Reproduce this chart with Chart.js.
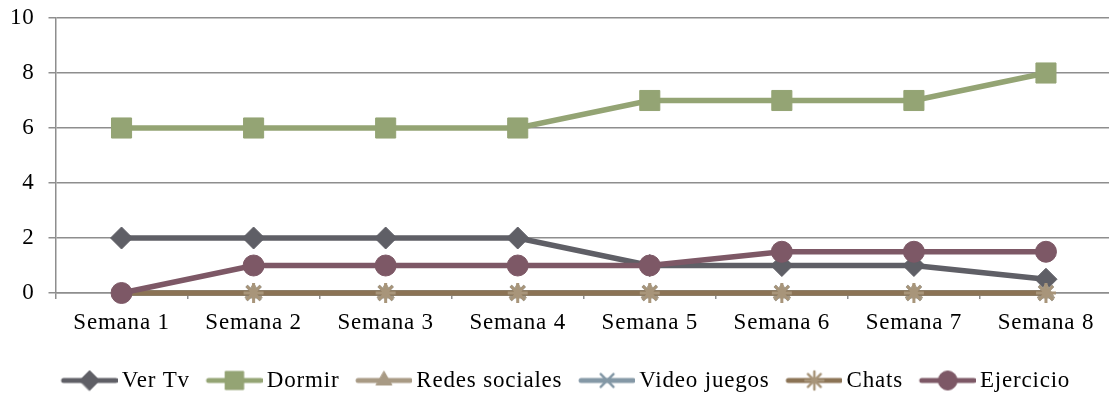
<!DOCTYPE html>
<html lang="es">

<head>
    <meta charset="UTF-8">
    <title>Horas por semana</title>
    <style>
        html, body {
            margin: 0;
            padding: 0;
            background: #fff;
            overflow: hidden;
        }

        .chart-container {
            width: 1142px;
            height: 394px;
            position: relative;
        }
    </style>
    <script src="https://cdn.jsdelivr.net/npm/chart.js@4.4.0/dist/chart.umd.min.js"></script>
</head>

<body>
    <div class="chart-container">
        <canvas id="hours-chart"></canvas>
    </div>

    <script>
        const semanas = ['Semana 1', 'Semana 2', 'Semana 3', 'Semana 4', 'Semana 5', 'Semana 6', 'Semana 7', 'Semana 8'];

        const verTv = [2, 2, 2, 2, 1, 1, 1, 0.5];
        const dormir = [6, 6, 6, 6, 7, 7, 7, 8];
        const redesSociales = [0, 0, 0, 0, 0, 0, 0, 0];
        const videoJuegos = [0, 0, 0, 0, 0, 0, 0, 0];
        const chats = [0, 0, 0, 0, 0, 0, 0, 0];
        const ejercicio = [0, 1, 1, 1, 1, 1.5, 1.5, 1.5];

        const yTicks = [0, 2, 4, 6, 8, 10];

        const FONT = "'Liberation Serif', 'Times New Roman', serif";
        const FONT_SIZE = 23;
        const GRID = '#8e8e8e';

        const series = [
            { label: 'Ver Tv', data: verTv, color: '#5f5f66', marker: '#5f5f66', style: 'rectRot', radius: 11 },
            { label: 'Dormir', data: dormir, color: '#94a474', marker: '#94a474', style: 'rect', radius: 14.2 },
            { label: 'Redes sociales', data: redesSociales, color: '#a89a84', marker: '#a89a84', style: 'triangle', radius: 10 },
            { label: 'Video juegos', data: videoJuegos, color: '#8498a6', marker: '#8498a6', style: 'crossRot', radius: 10 },
            { label: 'Chats', data: chats, color: '#8b7355', marker: '#a8957a', style: 'star', radius: 10 },
            { label: 'Ejercicio', data: ejercicio, color: '#7d5866', marker: '#7d5866', style: 'circle', radius: 10.5 }
        ];

        const thinMarker = (style) => style === 'star' || style === 'crossRot';

        // legend icon: a short stroke of the line with its marker in the middle
        function legendIcon(s) {
            const c = document.createElement('canvas');
            c.width = 78;
            c.height = 26;
            const g = c.getContext('2d');
            g.strokeStyle = s.color;
            g.lineWidth = 5;
            g.lineCap = 'round';
            g.beginPath();
            g.moveTo(24, 13);
            g.lineTo(76, 13);
            g.stroke();
            g.fillStyle = s.marker;
            g.strokeStyle = s.marker;
            g.lineWidth = thinMarker(s.style) ? 2.5 : 1;
            Chart.helpers.drawPoint(g, { pointStyle: s.style, radius: s.radius * 0.9, rotation: 0, borderWidth: g.lineWidth }, 50, 13);
            return c;
        }

        // slightly wider text spacing, set again whenever the canvas resets its context
        const textSpacing = {
            id: 'textSpacing',
            beforeUpdate(chart) { chart.ctx.letterSpacing = '0.8px'; },
            beforeDraw(chart) { chart.ctx.letterSpacing = '0.8px'; }
        };

        const ctx = document.getElementById('hours-chart').getContext('2d');

        new Chart(ctx, {
            type: 'line',
            plugins: [textSpacing],
            data: {
                labels: semanas,
                datasets: series.map((s, i) => ({
                    label: s.label,
                    data: s.data,
                    borderColor: s.color,
                    backgroundColor: s.marker,
                    borderWidth: 5.5,
                    pointStyle: s.style,
                    pointRadius: s.radius,
                    pointBackgroundColor: s.marker,
                    pointBorderColor: s.marker,
                    pointBorderWidth: thinMarker(s.style) ? 3 : 1,
                    tension: 0,
                    clip: false,
                    order: series.length - i
                }))
            },
            options: {
                responsive: true,
                maintainAspectRatio: false,
                animation: false,
                layout: {
                    padding: { left: 5, right: 30, top: 18, bottom: -8 }
                },
                plugins: {
                    tooltip: { enabled: false },
                    legend: {
                        position: 'bottom',
                        labels: {
                            usePointStyle: true,
                            pointStyleWidth: 63.5,
                            boxHeight: 22,
                            padding: 2,
                            color: '#000',
                            font: { family: FONT, size: FONT_SIZE },
                            generateLabels: (chart) => series.map((s, i) => ({
                                text: s.label,
                                pointStyle: legendIcon(s),
                                fillStyle: s.marker,
                                strokeStyle: s.color,
                                lineWidth: 0,
                                hidden: false,
                                datasetIndex: i
                            }))
                        }
                    }
                },
                scales: {
                    x: {
                        offset: true,
                        grid: {
                            offset: true,
                            drawOnChartArea: false,
                            drawTicks: true,
                            tickLength: 6,
                            color: GRID,
                            lineWidth: 1.5
                        },
                        border: { display: true, color: GRID, width: 1.5 },
                        ticks: {
                            color: '#000',
                            padding: 10,
                            maxRotation: 0,
                            font: { family: FONT, size: FONT_SIZE }
                        },
                        afterFit: (scale) => { scale.height = 74; }
                    },
                    y: {
                        min: 0,
                        max: 10,
                        afterBuildTicks: (scale) => {
                            scale.ticks = yTicks.map(v => ({ value: v }));
                        },
                        grid: {
                            drawTicks: true,
                            tickLength: 7,
                            color: GRID,
                            lineWidth: 1.5
                        },
                        border: { display: true, color: GRID, width: 1.5 },
                        ticks: {
                            color: '#000',
                            padding: 14,
                            font: { family: FONT, size: FONT_SIZE }
                        },
                        afterFit: (scale) => {
                            scale.width = 50.5;
                            scale.paddingTop = 0;
                            scale.paddingBottom = 0;
                        }
                    }
                }
            }
        });
    </script>
</body>

</html>
